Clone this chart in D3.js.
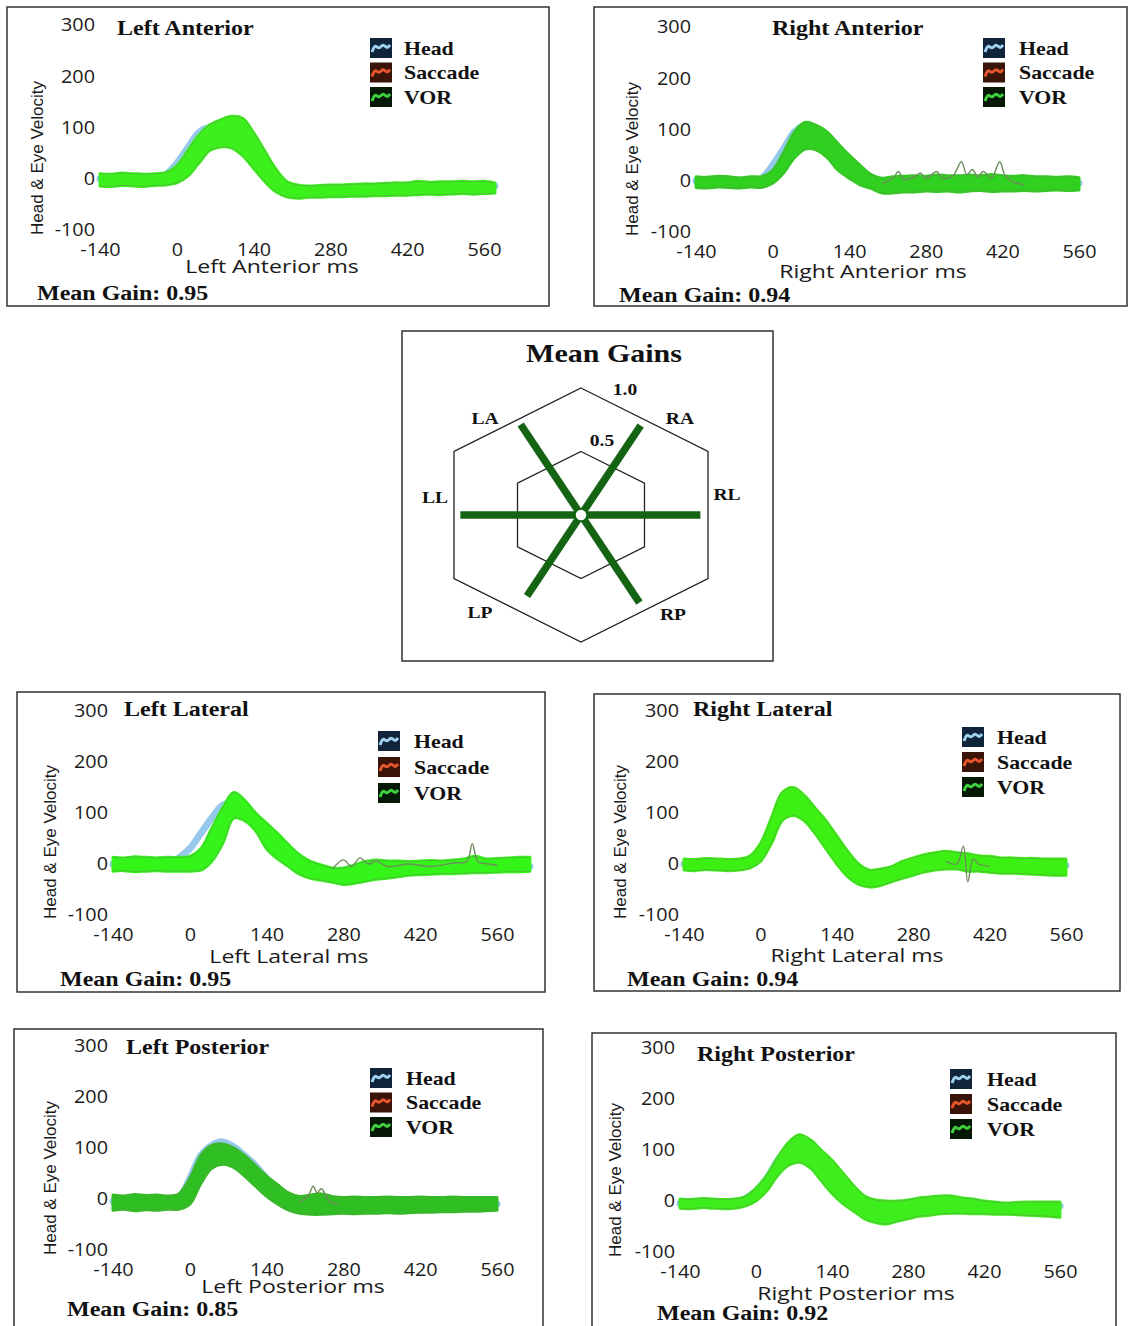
<!DOCTYPE html>
<html>
<head>
<meta charset="utf-8">
<script src="https://cdn.jsdelivr.net/npm/d3@7"></script>
<style>
  body { margin: 0; background: #fff; }
</style>
</head>
<body>
<div id="chart"></div>
<script>
// Time grid (ms) shared by all traces
const TIME = [-140, -120, -100, -80, -60, -40, -20, 0, 20, 40, 60, 80, 100, 120, 140, 160, 180, 200, 220, 240,
  260, 280, 300, 320, 340, 360, 380, 400, 420, 440, 460, 480, 500, 520, 540, 560, 580, 600, 620];

const X_TICKS = [-140, 0, 140, 280, 420, 560];
const Y_TICKS = [-100, 0, 100, 200, 300];
const LEGEND = ["Head", "Saccade", "VOR"];

// Left Anterior
const LA_HEAD = [0, 0, 0, 0, 0, 0, 8, 30, 60, 90, 100, 95, 80, 60, 35, 10, -15, -25, -22, -20,
  -20, -20, -18, -18, -16, -16, -15, -15, -14, -14, -14, -14, -14, -14, -14, -14, -14];
const LA_LO = [-14, -15, -13, -14, -15, -13, -12, -8, 5, 30, 55, 62, 60, 45, 20, -5, -25, -35, -38, -36,
  -36, -35, -35, -34, -34, -33, -33, -32, -32, -31, -30, -31, -30, -29, -30, -29, -28];
const LA_HI = [10, 9, 11, 10, 9, 10, 12, 25, 55, 85, 105, 115, 122, 118, 90, 55, 20, -5, -12, -14,
  -13, -12, -12, -11, -10, -10, -9, -8, -8, -5, -7, -6, -6, -5, -6, -5, -8];

// Right Anterior
const RA_HEAD = [0, 0, 0, 0, 0, 0, 5, 30, 62, 95, 108, 95, 75, 50, 30, 12, -2, -10, -8, -6,
  -5, -5, -5, -5, -5, -5, -5, -5, -5, -5, -5, -5, -5, -5, -5, -5];
const RA_LO = [-13, -14, -12, -13, -14, -12, -13, -5, 15, 45, 62, 60, 45, 20, 5, -8, -15, -24, -24, -22,
  -22, -20, -21, -20, -22, -20, -19, -21, -20, -20, -19, -20, -19, -18, -19, -18];
const RA_HI = [8, 7, 9, 8, 6, 8, 8, 20, 55, 95, 114, 108, 95, 72, 50, 30, 12, 5, 8, 9,
  10, 9, 11, 10, 10, 11, 10, 12, 10, 9, 10, 8, 8, 7, 8, 6];
const RA_EX_T = [200, 220, 230, 240, 260, 270, 280, 300, 310, 330, 345, 355, 365, 375, 385, 400, 415, 425, 440, 460];
const RA_EX = [-5, 5, 18, 2, 8, 15, 4, 18, 5, 10, 37, 12, 22, 8, 18, 5, 37, 10, -2, -8];

// Left Lateral
const LL_HEAD = [0, 0, 0, 0, 0, 0, 12, 30, 60, 90, 115, 120, 100, 75, 55, 35, 15, 0, -15, -25,
  -30, -30, -25, -20, -16, -13, -11, -10, -5, -5, -5, -5, -5, -5, -5, -5, -5, -5, -5];
const LL_LO = [-14, -13, -15, -14, -13, -14, -14, -14, -12, 5, 40, 90, 85, 65, 30, 10, -5, -20, -28, -32,
  -36, -40, -38, -34, -30, -28, -25, -22, -21, -20, -19, -19, -18, -17, -17, -16, -15, -15, -14];
const LL_HI = [13, 12, 14, 13, 12, 13, 13, 15, 30, 70, 110, 140, 125, 100, 80, 60, 38, 18, 5, -2,
  -8, -8, -2, 5, 8, 6, 6, 5, 6, 7, 6, 8, 10, 15, 10, 11, 12, 13, 13];
const LL_EX_T = [260, 280, 295, 310, 325, 340, 360, 400, 440, 480, 505, 515, 525, 545, 560];
const LL_EX = [-10, 8, -5, 12, 0, 6, -5, 0, -5, 2, 5, 40, 5, 0, -2];

// Right Lateral
const RL_HEAD = [0, 0, 0, 0, 0, 0, 8, 30, 70, 110, 125, 110, 85, 60, 30, 0, -20, -30, -28, -20,
  -12, -5, 0, 5, 5, 4, 2, 0, -3, -3, -3, -3, -3, -3, -3, -3];
const RL_SAC = [2, 2, 2, 2, 2, 2, 10, 35, 80, 130, 145, 130, 100, 70, 35, 5, -25, -40, -35, -25];
const RL_LO = [-12, -13, -11, -12, -13, -12, -8, 5, 40, 85, 95, 85, 60, 30, 0, -25, -40, -45, -42, -35,
  -28, -22, -16, -12, -10, -10, -14, -14, -16, -18, -18, -19, -20, -21, -22, -22];
const RL_HI = [10, 9, 11, 10, 9, 10, 15, 40, 90, 140, 150, 135, 110, 85, 55, 25, 0, -12, -10, -5,
  5, 12, 18, 22, 25, 22, 20, 16, 15, 12, 12, 11, 11, 10, 10, 10];
const RL_EX_T = [340, 360, 372, 380, 390, 400, 420];
const RL_EX = [5, 0, 35, -35, 10, 0, -5];

// Left Posterior
const LP_HEAD = [-5, -5, -5, -5, -5, -5, 2, 40, 85, 105, 112, 102, 85, 65, 40, 20, 5, -8, -10, -10,
  -10, -10, -10, -10, -10, -10, -10, -10, -10, -10, -10, -10, -10, -10, -10, -10];
const LP_LO = [-22, -20, -23, -21, -22, -20, -20, -10, 30, 60, 68, 62, 45, 25, 5, -10, -22, -28, -30, -30,
  -29, -28, -29, -28, -28, -27, -28, -27, -26, -26, -25, -25, -24, -24, -23, -22];
const LP_HI = [8, 6, 9, 7, 8, 6, 10, 40, 85, 105, 108, 100, 85, 65, 45, 28, 12, 5, 8, 10,
  5, 3, 4, 3, 3, 4, 3, 3, 4, 3, 3, 4, 3, 3, 3, 3];
const LP_EX_T = [200, 215, 225, 232, 240, 255, 270];
const LP_EX = [-5, 5, 25, 12, 20, -5, -10];

// Right Posterior
const RP_HEAD = [-5, -5, -5, -5, -5, -5, 5, 20, 45, 80, 105, 110, 95, 75, 50, 25, 5, -15, -25, -25,
  -20, -15, -12, -10, -10, -10, -10, -10, -10, -10, -10, -10, -10, -10, -10, -10];
const RP_SAC = [-5, -5, -5, -5, -5, 0, 6, 22, 45, 75, 110, 125, 110, 85, 60, 30, 5, -20, -30];
const RP_LO = [-14, -15, -13, -14, -15, -14, -10, 0, 20, 50, 70, 76, 65, 40, 15, -5, -20, -35, -42, -45,
  -40, -35, -30, -28, -25, -24, -24, -25, -25, -26, -26, -27, -28, -29, -30, -32];
const RP_HI = [4, 3, 5, 4, 3, 4, 8, 25, 50, 85, 115, 130, 120, 100, 80, 55, 30, 10, 2, 0,
  0, 2, 6, 8, 10, 10, 6, 4, 0, -2, -4, -3, -2, -2, -2, -2];

// Mean gains (radar)
const AXES = ["RA", "RL", "RP", "LP", "LL", "LA"];
const GAINS = [0.94, 0.94, 0.92, 0.85, 0.95, 0.95];
const RINGS = [0.5, 1.0];

// Panel layout
const panels = [
  { title: "Left Anterior", gain: "0.95", head: LA_HEAD, lo: LA_LO, hi: LA_HI, green: "#3cf01c",
    box: [7, 7, 542, 299], x0: 100, x1: 484, yTop: 25, yBot: 230,
    titleAt: [117, 35], gainAt: [37, 300], xlabAt: [272, 273], ylabAt: [37, 158], legAt: [370, 48, 24.5, 34] },
  { title: "Right Anterior", gain: "0.94", head: RA_HEAD, lo: RA_LO, hi: RA_HI, green: "#2fd01f",
    exT: RA_EX_T, ex: RA_EX,
    box: [594, 7, 533, 299], x0: 696, x1: 1079, yTop: 27, yBot: 232,
    titleAt: [772, 35], gainAt: [619, 302], xlabAt: [873, 278], ylabAt: [632, 159], legAt: [983, 48, 24.5, 36] },
  { title: "Left Lateral", gain: "0.95", head: LL_HEAD, lo: LL_LO, hi: LL_HI, green: "#34f41a",
    exT: LL_EX_T, ex: LL_EX,
    box: [17, 692, 528, 300], x0: 113, x1: 497, yTop: 711, yBot: 915,
    titleAt: [124, 716], gainAt: [60, 986], xlabAt: [289, 963], ylabAt: [50, 842], legAt: [378, 741, 26, 36] },
  { title: "Right Lateral", gain: "0.94", head: RL_HEAD, sac: RL_SAC, lo: RL_LO, hi: RL_HI, green: "#3cf014",
    exT: RL_EX_T, ex: RL_EX,
    box: [594, 694, 526, 297], x0: 684, x1: 1066, yTop: 711, yBot: 915,
    titleAt: [693, 716], gainAt: [627, 986], xlabAt: [857, 962], ylabAt: [620, 842], legAt: [962, 737, 25, 35] },
  { title: "Left Posterior", gain: "0.85", head: LP_HEAD, lo: LP_LO, hi: LP_HI, green: "#2fbf22",
    exT: LP_EX_T, ex: LP_EX,
    box: [14, 1029, 529, 300], x0: 113, x1: 497, yTop: 1046, yBot: 1250,
    titleAt: [126, 1054], gainAt: [67, 1316], xlabAt: [293, 1293], ylabAt: [50, 1178], legAt: [370, 1078, 24.5, 36] },
  { title: "Right Posterior", gain: "0.92", head: RP_HEAD, sac: RP_SAC, lo: RP_LO, hi: RP_HI, green: "#3eee1c",
    box: [592, 1033, 524, 296], x0: 680, x1: 1060, yTop: 1048, yBot: 1252,
    titleAt: [697, 1061], gainAt: [657, 1320], xlabAt: [856, 1300], ylabAt: [615, 1180], legAt: [950, 1079, 25, 37] },
];

const SERIF = "'Liberation Serif', 'Times New Roman', serif";
const SANS = "'Open Sans', 'DejaVu Sans', sans-serif";

const svg = d3.select("#chart").append("svg")
  .attr("width", 1133).attr("height", 1326)
  .style("display", "block");

// stretch text horizontally (source picture is wider than the fonts)
function widen(sel, k) {
  sel.each(function () {
    const w = this.getComputedTextLength();
    d3.select(this).attr("textLength", w * k).attr("lengthAdjust", "spacingAndGlyphs");
  });
}

const legendStyle = [
  { bg: "#10243a", wave: "#9ed2f0" },
  { bg: "#3a1408", wave: "#e5562c" },
  { bg: "#061806", wave: "#3fd03f" },
];
const wavePts = [[2, 14], [5, 6], [9, 12], [13, 5], [17, 11], [20, 7]];

panels.forEach((p) => {
  const g = svg.append("g");
  const [bx, by, bw, bh] = p.box;
  g.append("rect")
    .attr("x", bx).attr("y", by).attr("width", bw).attr("height", bh)
    .attr("fill", "#fff").attr("stroke", "#333").attr("stroke-width", 1.5);

  const x = d3.scaleLinear().domain([-140, 560]).range([p.x0, p.x1]);
  const y = d3.scaleLinear().domain([-100, 300]).range([p.yBot, p.yTop]);

  // Axes (labels only), plain hyphen for negatives
  const ya = g.append("g").attr("transform", `translate(${p.x0},0)`)
    .call(d3.axisLeft(y).tickValues(Y_TICKS).tickFormat((d) => String(d)).tickSize(0).tickPadding(5));
  const xa = g.append("g").attr("transform", `translate(0,${p.yBot})`)
    .call(d3.axisBottom(x).tickValues(X_TICKS).tickFormat((d) => String(d)).tickSize(0).tickPadding(13));
  [ya, xa].forEach((a) => {
    a.select(".domain").remove();
    a.selectAll("text").style("font-family", SANS).style("font-size", "18px").attr("fill", "#1a1a1a");
  });
  widen(ya.selectAll("text"), 1.1);
  widen(xa.selectAll("text"), 1.1);

  // Head trace
  const line = d3.line().x((d) => x(d[0])).y((d) => y(d[1])).curve(d3.curveCatmullRom);
  g.append("path")
    .attr("d", line(p.head.map((v, i) => [TIME[i], v])))
    .attr("fill", "none").attr("stroke", "#95c8ea").attr("stroke-width", 7)
    .attr("stroke-linejoin", "round").attr("stroke-linecap", "round");

  if (p.sac) {
    g.append("path")
      .attr("d", line(p.sac.map((v, i) => [TIME[i], v])))
      .attr("fill", "none").attr("stroke", "#e8823a").attr("stroke-width", 3)
      .attr("stroke-linecap", "round");
  }

  // VOR band (envelope of all traces)
  const band = p.lo.map((v, i) => ({ t: TIME[i], lo: v, hi: p.hi[i] }));
  const area = d3.area().x((d) => x(d.t)).y0((d) => y(d.lo)).y1((d) => y(d.hi)).curve(d3.curveCatmullRom);
  g.append("path").attr("d", area(band))
    .attr("fill", p.green).attr("stroke", p.green).attr("stroke-width", 3).attr("stroke-linejoin", "round");
  [band.map((d) => [d.t, d.lo]), band.map((d) => [d.t, d.hi])].forEach((edge) => {
    g.append("path").attr("d", line(edge))
      .attr("fill", "none").attr("stroke", "#5d9a4c").attr("stroke-width", 1).attr("opacity", 0.55);
  });

  if (p.ex) {
    g.append("path")
      .attr("d", line(p.ex.map((v, i) => [p.exT[i], v])))
      .attr("fill", "none").attr("stroke", "#6e8c5e").attr("stroke-width", 1.4);
  }

  // Title, labels
  const title = g.append("text").attr("x", p.titleAt[0]).attr("y", p.titleAt[1])
    .style("font-family", SERIF).style("font-weight", "bold").style("font-size", "20px")
    .attr("fill", "#111").text(p.title);
  widen(title, 1.2);

  const gain = g.append("text").attr("x", p.gainAt[0]).attr("y", p.gainAt[1])
    .style("font-family", SERIF).style("font-weight", "bold").style("font-size", "20px")
    .attr("fill", "#111").text(`Mean Gain: ${p.gain}`);
  widen(gain, 1.2);

  const xlab = g.append("text").attr("x", p.xlabAt[0]).attr("y", p.xlabAt[1])
    .attr("text-anchor", "middle")
    .style("font-family", SANS).style("font-size", "18px")
    .attr("fill", "#1a1a1a").text(`${p.title} ms`);
  widen(xlab, 1.28);

  g.append("text")
    .attr("transform", `translate(${p.ylabAt[0]},${p.ylabAt[1]}) rotate(-90)`)
    .attr("text-anchor", "middle").attr("dy", "0.35em")
    .style("font-family", "'Liberation Sans', Arial, sans-serif").style("font-size", "17px")
    .attr("fill", "#1a1a1a").text("Head & Eye Velocity");

  // Legend
  const [lx, ly, step, toff] = p.legAt;
  const wave = d3.line().curve(d3.curveBasis);
  LEGEND.forEach((name, i) => {
    const cy = ly + i * step;
    const lg = g.append("g").attr("transform", `translate(${lx},${cy - 10})`);
    lg.append("rect").attr("width", 22).attr("height", 20).attr("fill", legendStyle[i].bg);
    lg.append("path").attr("d", wave(wavePts)).attr("fill", "none")
      .attr("stroke", legendStyle[i].wave).attr("stroke-width", 3);
    const t = g.append("text").attr("x", lx + toff).attr("y", cy).attr("dy", "0.35em")
      .style("font-family", SERIF).style("font-weight", "bold").style("font-size", "19px")
      .attr("fill", "#111").text(name);
    widen(t, 1.15);
  });
});

// Mean gains radar
const rg = svg.append("g");
rg.append("rect").attr("x", 402).attr("y", 331).attr("width", 371).attr("height", 330)
  .attr("fill", "#fff").attr("stroke", "#333").attr("stroke-width", 1.5);
const rt = rg.append("text").attr("x", 604).attr("y", 362).attr("text-anchor", "middle")
  .style("font-family", SERIF).style("font-weight", "bold").style("font-size", "25px")
  .attr("fill", "#111").text("Mean Gains");
widen(rt, 1.2);

const cx = 581, cy = 515;
const r = d3.scaleLinear().domain([0, 1]).range([0, 127]);
const HEX = [[0, -1], [1, -0.5], [1, 0.5], [0, 1], [-1, 0.5], [-1, -0.5]];
const hub = rg.append("g").attr("transform", `translate(${cx},${cy})`);

RINGS.forEach((k) => {
  hub.append("path")
    .attr("d", d3.line().curve(d3.curveLinearClosed)(HEX.map(([hx, hy]) => [r(k) * hx, r(k) * hy])))
    .attr("fill", "none").attr("stroke", "#222").attr("stroke-width", 1.3);
});

AXES.forEach((a, i) => {
  const v0 = HEX[i], v1 = HEX[(i + 1) % 6];
  const dx = (v0[0] + v1[0]) / 2, dy = (v0[1] + v1[1]) / 2;
  hub.append("line")
    .attr("x1", 0).attr("y1", 0)
    .attr("x2", r(GAINS[i]) * dx).attr("y2", r(GAINS[i]) * dy)
    .attr("stroke", "#146414").attr("stroke-width", 7.5);
});
hub.append("circle").attr("r", 6).attr("fill", "#fff").attr("stroke", "#146414").attr("stroke-width", 1.5);

const axisLabelPos = { RA: [680, 418], RL: [727, 494], RP: [673, 614], LP: [480, 612], LL: [435, 497], LA: [485, 418] };
AXES.forEach((a) => {
  const t = rg.append("text").attr("x", axisLabelPos[a][0]).attr("y", axisLabelPos[a][1])
    .attr("text-anchor", "middle").attr("dy", "0.35em")
    .style("font-family", SERIF).style("font-weight", "bold").style("font-size", "17px")
    .attr("fill", "#111").text(a);
  widen(t, 1.15);
});
const ringLabelPos = [[602, 440], [625, 389]];
RINGS.forEach((k, i) => {
  const t = rg.append("text").attr("x", ringLabelPos[i][0]).attr("y", ringLabelPos[i][1])
    .attr("text-anchor", "middle").attr("dy", "0.35em")
    .style("font-family", SERIF).style("font-weight", "bold").style("font-size", "17px")
    .attr("fill", "#111").text(k.toFixed(1));
  widen(t, 1.15);
});
</script>
</body>
</html>
